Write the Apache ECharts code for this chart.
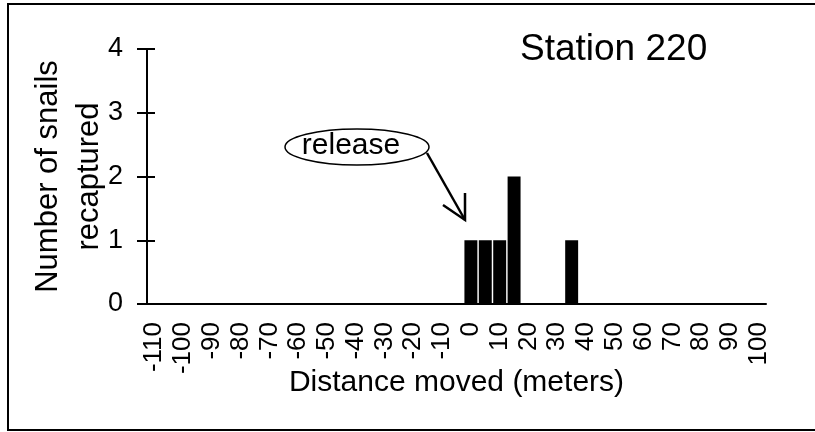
<!DOCTYPE html>
<html>
<head>
<meta charset="utf-8">
<script src="https://cdn.jsdelivr.net/npm/echarts@6/dist/echarts.min.js"></script>
<style>
html, body { margin: 0; padding: 0; background: #fff; overflow: hidden; }
#chart { width: 815px; height: 432px; }
</style>
</head>
<body>
<div id="chart"></div>
<script>
// distance bins (meters), every 5 m
const distances = ['-110', '-105', '-100', '-95', '-90', '-85', '-80', '-75', '-70', '-65',
    '-60', '-55', '-50', '-45', '-40', '-35', '-30', '-25', '-20', '-15',
    '-10', '-5', '0', '5', '10', '15', '20', '25', '30', '35',
    '40', '45', '50', '55', '60', '65', '70', '75', '80', '85',
    '90', '95', '100'];
// snails recaptured per bin
const snails = [0, 0, 0, 0, 0, 0, 0, 0, 0, 0,
    0, 0, 0, 0, 0, 0, 0, 0, 0, 0,
    0, 0, 1, 1, 1, 2, 0, 0, 0, 1,
    0, 0, 0, 0, 0, 0, 0, 0, 0, 0,
    0, 0, 0];
const yTicks = [0, 1, 2, 3, 4];

const font = 'Liberation Sans, Arial, sans-serif';
let chart = echarts.init(document.getElementById('chart'));

let option = {
    animation: false,
    backgroundColor: '#fff',
    title: {
        text: 'Station 220',
        left: 515,
        top: 26,
        textStyle: { fontFamily: font, fontSize: 37, fontWeight: 'normal', color: '#000' }
    },
    grid: {
        left: 147,
        right: 49,
        top: 49,
        bottom: 128
    },
    xAxis: {
        type: 'category',
        data: distances,
        name: 'Distance moved (meters)',
        nameLocation: 'middle',
        nameGap: 64,
        nameMoveOverlap: false,
        nameTextStyle: { fontFamily: font, fontSize: 30, color: '#000' },
        axisLine: { lineStyle: { color: '#000', width: 2 } },
        axisTick: { show: false },
        axisLabel: {
            interval: 1,
            rotate: 90,
            margin: 18,
            fontFamily: font,
            fontSize: 26,
            color: '#000'
        }
    },
    yAxis: [{
        type: 'value',
        min: yTicks[0],
        max: yTicks[yTicks.length - 1],
        interval: 1,
        name: 'Number of snails\nrecaptured',
        nameLocation: 'middle',
        nameRotate: 90,
        nameGap: 37,
        nameMoveOverlap: false,
        nameTextStyle: { fontFamily: font, fontSize: 31, color: '#000', lineHeight: 41 },
        splitLine: { show: false },
        axisLine: { show: true, lineStyle: { color: '#000', width: 2 } },
        axisTick: { show: true, length: 10, lineStyle: { color: '#000', width: 2 } },
        axisLabel: { margin: 24, fontFamily: font, fontSize: 27, color: '#000' }
    }, {
        // inner half of the crossing ticks
        type: 'value',
        min: yTicks[0],
        max: yTicks[yTicks.length - 1],
        interval: 1,
        position: 'left',
        splitLine: { show: false },
        axisLine: { show: true, lineStyle: { color: '#000', width: 2 } },
        axisLabel: { show: false },
        axisTick: { show: true, inside: true, length: 8, lineStyle: { color: '#000', width: 2 } }
    }],
    series: [{
        type: 'bar',
        data: snails,
        barCategoryGap: '10%',
        itemStyle: { color: '#000' }
    }],
    graphic: [
        {
            // frame: left, top and bottom edges (right edge is cut off)
            type: 'polyline',
            shape: { points: [[815, 4], [8, 4], [8, 430], [815, 430]] },
            style: { fill: null, stroke: '#000', lineWidth: 2 }
        },
        {
            type: 'ellipse',
            shape: { cx: 357, cy: 147, rx: 72, ry: 18 },
            style: { fill: '#fff', stroke: '#000', lineWidth: 1.5 }
        },
        {
            type: 'text',
            x: 351,
            y: 146,
            style: {
                text: 'release',
                font: '30px ' + font,
                fill: '#000',
                align: 'center',
                verticalAlign: 'middle'
            }
        },
        {
            type: 'polyline',
            shape: { points: [[427, 153], [465, 220]] },
            style: { stroke: '#000', lineWidth: 2.5 }
        },
        {
            type: 'polyline',
            shape: { points: [[443, 205], [465, 220], [465, 193]] },
            style: { stroke: '#000', lineWidth: 2.5, fill: null }
        }
    ]
};

chart.setOption(option);
</script>
</body>
</html>
